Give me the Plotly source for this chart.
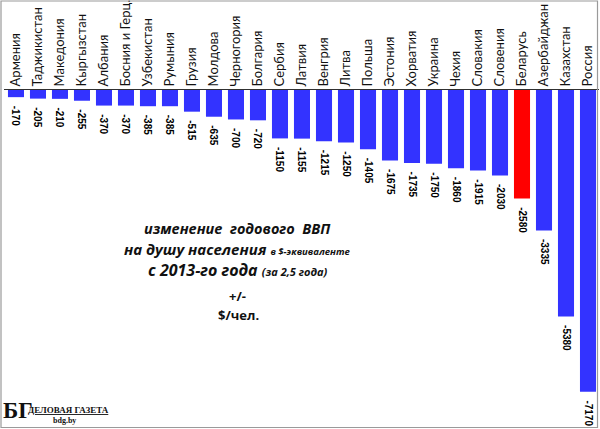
import plotly.graph_objects as go

countries = ["Армения", "Таджикистан", "Македония", "Кыргызстан", "Албания", "Босния и Герц.",
             "Узбекистан", "Румыния", "Грузия", "Молдова", "Черногория", "Болгария", "Сербия",
             "Латвия", "Венгрия", "Литва", "Польша", "Эстония", "Хорватия", "Украина", "Чехия",
             "Словакия", "Словения", "Беларусь", "Азербайджан", "Казахстан", "Россия"]
values = [-170, -205, -210, -255, -370, -370, -385, -385, -515, -635, -700, -720, -1150,
          -1155, -1215, -1250, -1405, -1675, -1735, -1750, -1860, -1915, -2030, -2580,
          -3335, -5380, -7170]
highlight = "Беларусь"

W, H = 600, 429
L, R, T, B = 4, 1, 90, 2
PW, PH = W - L - R, H - T - B

def px(x):
    return (x - L) / PW

def py(y):
    return (H - B - y) / PH

colors = ["#FF0000" if c == highlight else "#3333FF" for c in countries]
labels = ["\u00a0\u00a0" + str(v) for v in values]

fig = go.Figure(go.Bar(
    x=countries, y=values, marker=dict(color=colors, line=dict(width=0)),
    text=labels, textposition="outside", textangle=90, constraintext="none",
    cliponaxis=False,
    textfont=dict(family="Liberation Sans", size=10, color="#000000", weight="bold"),
    hoverinfo="skip",
))

fig.update_layout(
    width=W, height=H, margin=dict(l=L, r=R, t=T, b=B, autoexpand=False),
    paper_bgcolor="white", plot_bgcolor="white", showlegend=False, bargap=0.27,
    xaxis=dict(side="top", tickangle=-90, range=[-0.545, len(countries) - 0.5],
               automargin=False,
               showline=True, linecolor="#303030", linewidth=1, ticks="", showgrid=False,
               tickfont=dict(family="Lato", size=13, color="#111111"), fixedrange=True),
    yaxis=dict(range=[-8005, 0], visible=False, showgrid=False, zeroline=False,
               automargin=False, fixedrange=True),
)

# border
fig.add_shape(type="rect", xref="paper", yref="paper", x0=px(1), x1=px(597.5), y0=py(427.5), y1=py(1),
              line=dict(color="#9a9a9a", width=1.2), fillcolor="rgba(0,0,0,0)")

tf = "Open Sans"
sp = "\u00a0\u00a0"
ann = [
    (237, 228, f"<b><i>изменение{sp}годового{sp}ВВП</i></b>", 14.5),
    (237, 249, "<b><i>на душу населения <span style='font-size:9.5px'>в $-эквиваленте</span></i></b>", 15),
    (238, 270, "<b><i>с 2013-го года <span style='font-size:11px'>(за 2,5 года)</span></i></b>", 16),
    (237, 296, "<b>+/-</b>", 13),
    (238, 315, "<b>$/чел.</b>", 13),
]
for x, y, t, s in ann:
    fig.add_annotation(x=px(x), y=py(y), xref="paper", yref="paper", text=t, showarrow=False,
                       xanchor="center", yanchor="middle", font=dict(family=tf, size=s, color="#111111"))

# logo
fig.add_annotation(x=px(2), y=py(410), xref="paper", yref="paper", text="<b>БГ</b>", showarrow=False,
                   xanchor="left", yanchor="middle", borderpad=0,
                   font=dict(family="Liberation Serif", size=23, color="#111111"))
fig.add_annotation(x=px(27), y=py(410), xref="paper", yref="paper", text="<b><u>ДЕЛОВАЯ ГАЗЕТА</u></b>",
                   showarrow=False, xanchor="left", yanchor="middle", borderpad=0,
                   font=dict(family="Liberation Serif", size=9, color="#111111"))
fig.add_annotation(x=px(64), y=py(420), xref="paper", yref="paper", text="<b>bdg.by</b>",
                   showarrow=False, xanchor="center", yanchor="middle", borderpad=0,
                   font=dict(family="Liberation Serif", size=8, color="#111111"))

fig.write_html("out.html", config={"displayModeBar": False},
               post_script="document.body.style.margin='0';document.body.style.padding='0';"
                           "document.body.style.overflow='hidden';")
